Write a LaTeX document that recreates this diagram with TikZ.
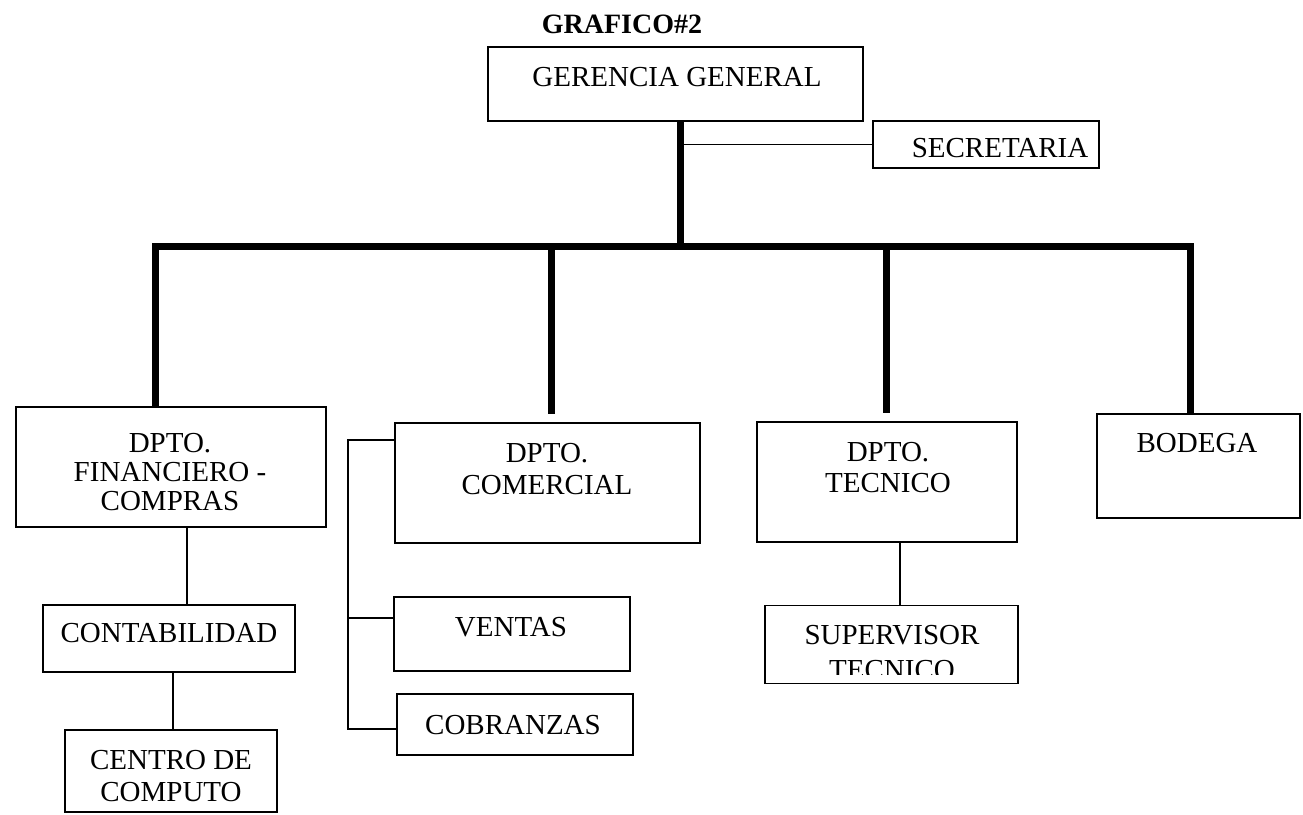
\documentclass[tikz,border=0pt]{standalone}
\usepackage{fontspec}
\setmainfont{Liberation Serif}
\begin{document}
\begin{tikzpicture}[x=1pt,y=-1pt,
  box/.style={draw, line width=1.6pt, inner sep=0pt, rectangle},
  txt/.style={inner sep=0pt, align=center, font=\fontsize{29}{31}\selectfont, anchor=north},
  thickline/.style={line width=7pt},
  thinline/.style={line width=1.6pt}]
\useasboundingbox (0,0) rectangle (1303,814);
% title
\node[txt, font=\fontsize{28}{30}\selectfont\bfseries] (title) at (622,15) {GRAFICO\#2};
% boxes
\node[box, minimum width=375pt, minimum height=74pt] (ger) at (675.5,84) {};
\node[box, minimum width=226pt, minimum height=47pt] (sec) at (986,144.5) {};
\node[box, minimum width=310pt, minimum height=120pt] (fin) at (171,467) {};
\node[box, minimum width=305pt, minimum height=120pt] (com) at (547.5,483) {};
\node[box, minimum width=260pt, minimum height=120pt] (tec) at (887,482) {};
\node[box, minimum width=203pt, minimum height=104pt] (bod) at (1198.5,466) {};
\node[box, minimum width=252pt, minimum height=67pt] (cont) at (169,638.5) {};
\node[box, minimum width=212pt, minimum height=82pt] (cen) at (171,771) {};
\node[box, minimum width=236pt, minimum height=74pt] (ven) at (512,634) {};
\node[box, minimum width=236pt, minimum height=61pt] (cob) at (515,724.5) {};
\node[box, minimum width=253pt, minimum height=78pt] (sup) at (891.5,644.5) {};
% texts
\node[txt] (gerT) at (677,67) {GERENCIA GENERAL};
\node[txt] (secT) at (1000,138) {SECRETARIA};
\node[txt, font=\fontsize{29}{29}\selectfont] (finT) at (170,433) {DPTO.\\FINANCIERO -\\COMPRAS};
\node[txt, font=\fontsize{29}{32}\selectfont] (comT) at (547,443) {DPTO.\\COMERCIAL};
\node[txt] (tecT) at (888,442) {DPTO.\\TECNICO};
\node[txt] (bodT) at (1197,433) {BODEGA};
\node[txt] (contT) at (169,623) {CONTABILIDAD};
\node[txt, font=\fontsize{29}{32}\selectfont] (cenT) at (171,750) {CENTRO DE\\COMPUTO};
\node[txt] (venT) at (511,617) {VENTAS};
\node[txt] (cobT) at (513,715) {COBRANZAS};
\begin{scope}
  \clip (700,600) rectangle (1100,674);
  \node[txt, font=\fontsize{29}{35}\selectfont] (supT) at (892,625) {SUPERVISOR\\TECNICO};
\end{scope}
% connectors
\coordinate (hub) at (680,246);
\coordinate (barL) at (155,246);
\coordinate (barR) at (1190,246);
\coordinate (bCom) at (551,246);
\coordinate (bTec) at (886,246);
\draw[thickline] (fin.north -| barL) -- (barL) -- (barR) -- (bod.north -| barR);
\draw[thickline] (ger.south -| hub) -- (hub);
\draw[thickline, shorten >=8pt] (bCom) -- (bCom |- com.north);
\draw[thickline, shorten >=8pt] (bTec) -- (bTec |- tec.north);
\draw[thinline] (sec.west) -- (sec.west -| hub);
\coordinate (fc) at (187,0);
\coordinate (cc) at (173,0);
\coordinate (tc) at (900,0);
\draw[thinline] (fc |- fin.south) -- (fc |- cont.north);
\draw[thinline] (cc |- cont.south) -- (cc |- cen.north);
\draw[thinline] (tc |- tec.south) -- (tc |- sup.north);
\coordinate (brTop) at (348,440);
\coordinate (brV) at (348,618);
\coordinate (brC) at (348,729);
\draw[thinline] (brTop -| com.west) -- (brTop) -- (brC) -- (brC -| cob.west);
\draw[thinline] (brV) -- (brV -| ven.west);
\end{tikzpicture}
\end{document}
